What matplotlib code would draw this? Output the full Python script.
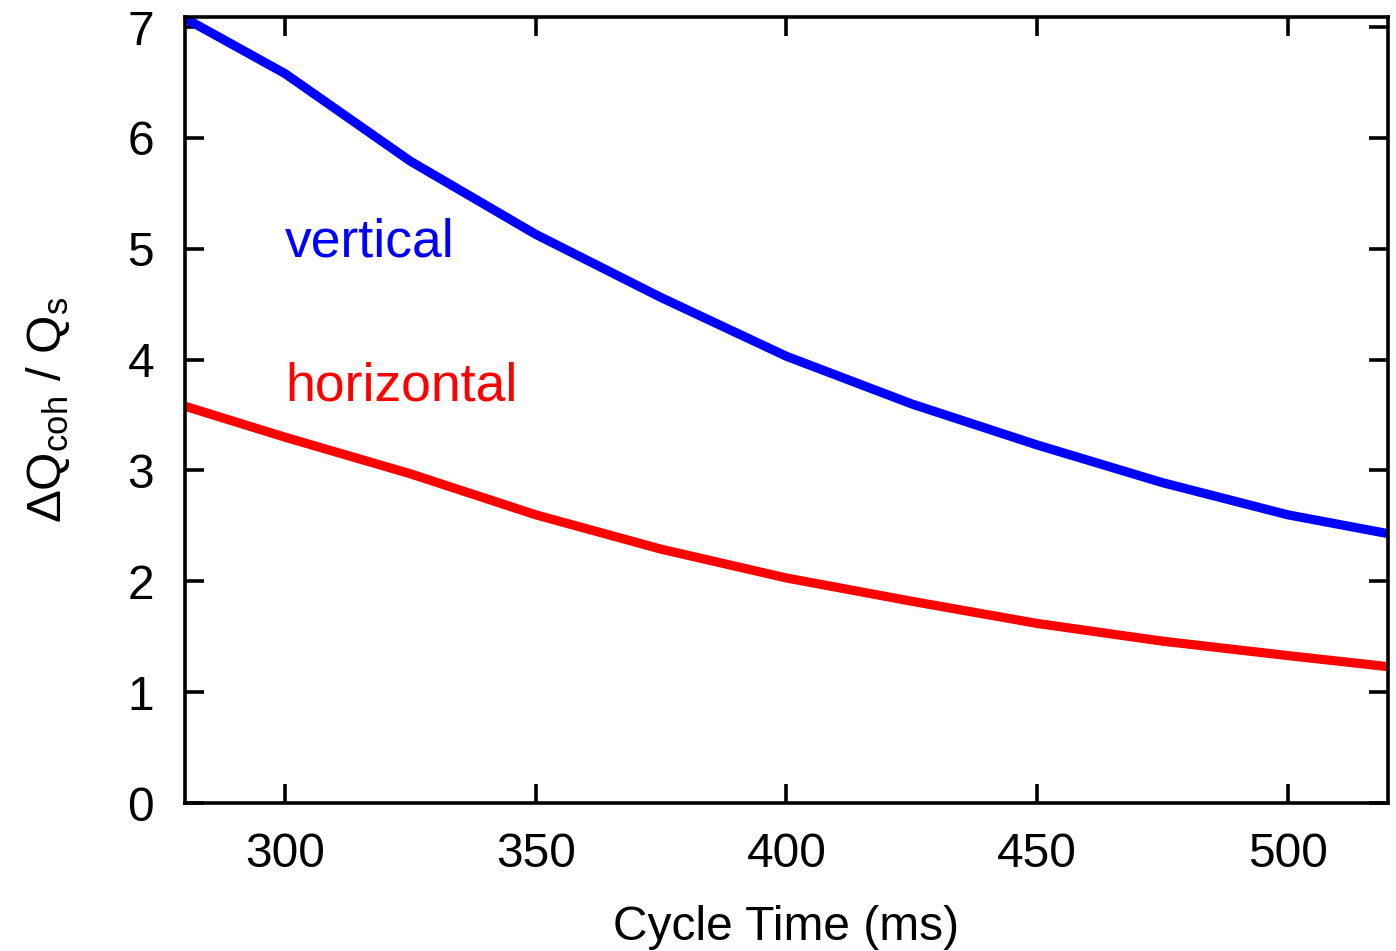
import matplotlib
matplotlib.use("Agg")
import matplotlib.pyplot as plt

plt.rcParams['font.family'] = ['Liberation Sans', 'DejaVu Sans']
plt.rcParams['mathtext.fontset'] = 'custom'
plt.rcParams['mathtext.rm'] = 'Liberation Sans'
plt.rcParams['mathtext.it'] = 'Liberation Sans'

# values
cycle_time = [280, 300, 325, 350, 375, 400, 425, 450, 475, 500, 520]
vertical = [7.08, 6.58, 5.79, 5.13, 4.56, 4.03, 3.60, 3.23, 2.89, 2.60, 2.43]
horizontal = [3.58, 3.30, 2.97, 2.60, 2.29, 2.03, 1.82, 1.62, 1.46, 1.33, 1.23]

x_ticks = [300, 350, 400, 450, 500]
y_ticks = [0, 1, 2, 3, 4, 5, 6, 7]

fig = plt.figure(figsize=(13.96, 9.51), dpi=100)
ax = fig.add_axes([0.1323, 0.1556, 0.8620, 0.8265])

ax.plot(cycle_time, vertical, color='#0000ff', lw=6.6, solid_joinstyle='round')
ax.plot(cycle_time, horizontal, color='#ff0000', lw=6.6, solid_joinstyle='round')

ax.text(300, 4.93, 'vertical', color='#0000ff', fontsize=38.5, va='baseline', ha='left')
ax.text(300, 3.63, 'horizontal', color='#ff0000', fontsize=38.5, va='baseline', ha='left')

ax.set_xlim(280, 520)
ax.set_ylim(0, 7.09)
ax.set_xticks(x_ticks)
ax.set_yticks(y_ticks)

for s in ax.spines.values():
    s.set_linewidth(2.6)
ax.tick_params(direction='in', length=14, width=2.6, top=True, right=True,
               labelsize=34.5)
ax.tick_params(axis='x', pad=21)
ax.tick_params(axis='y', pad=22)

ax.set_xlabel('Cycle Time (ms)', fontsize=34.5, labelpad=20)
ax.set_ylabel(r'$\Delta$Q$_{\rm coh}$ / Q$_{\rm s}$', fontsize=35.5, labelpad=40)

fig.savefig('out.png', dpi=100)
